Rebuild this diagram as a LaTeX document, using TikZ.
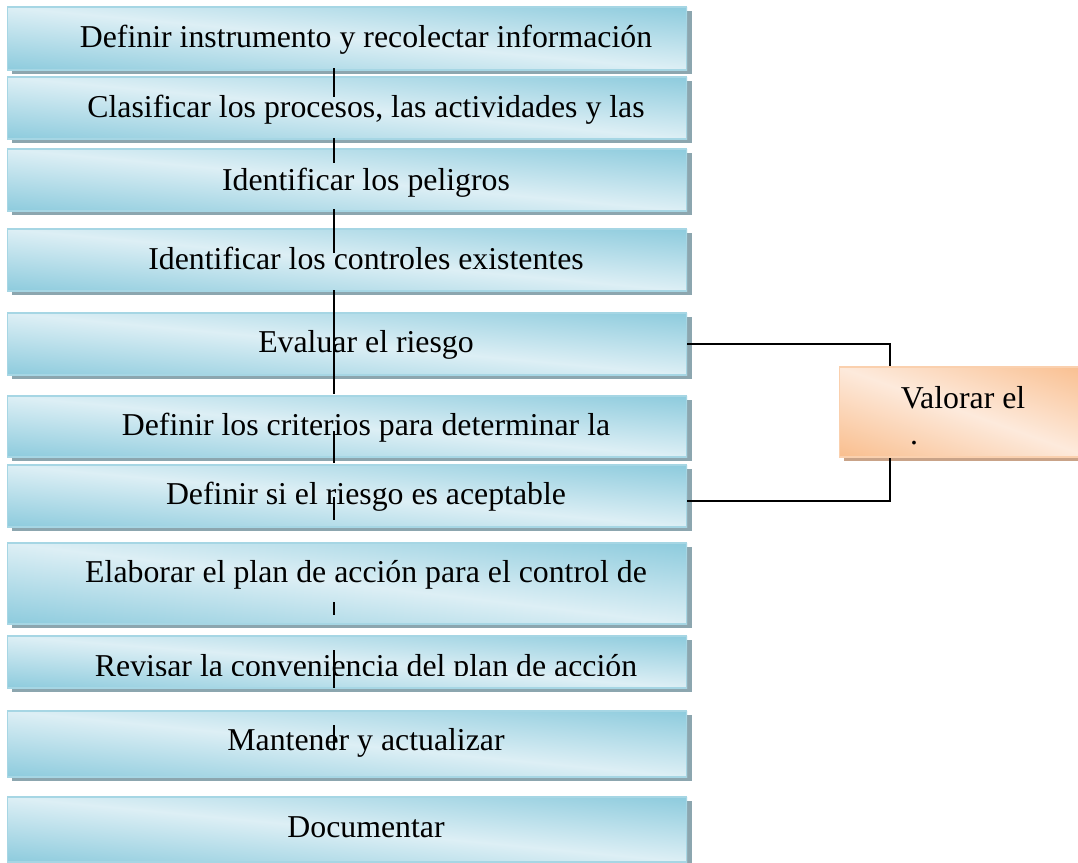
\documentclass[tikz,border=0pt]{standalone}
\usepackage{fontspec}
\setmainfont{Liberation Serif}
\definecolor{bluedark}{HTML}{8DCBDD}
\definecolor{bluelight}{HTML}{DDEFF5}
\definecolor{blueedge}{HTML}{A6D6E4}
\definecolor{blueshade}{HTML}{8CA6AF}
\definecolor{orangedark}{HTML}{F9BE8E}
\definecolor{orangelight}{HTML}{FDEADC}
\definecolor{orangeedge}{HTML}{FAD0AE}
\definecolor{orangeshade}{HTML}{C9A388}
\tikzset{
  stepbox/.style={rectangle, draw=blueedge, line width=0.6pt, inner sep=0pt, minimum width=13.6cm},
  blueramp/.style={top color=bluedark, bottom color=bluedark, middle color=bluelight},
  valbox/.style={rectangle, draw=orangeedge, line width=0.6pt, inner sep=0pt,
    minimum width=5.02cm, minimum height=1.8cm},
  orangeramp/.style={top color=orangedark, bottom color=orangedark, middle color=orangelight},
  steptext/.style={anchor=base, inner sep=0pt, font=\fontsize{18.1}{21}\selectfont},
  spine/.style={line width=0.6pt},
  link/.style={line width=0.8pt}
}
\begin{document}
\begin{tikzpicture}[x=0.02cm, y=-0.02cm]
    \useasboundingbox (0,0) rectangle (1078,862);
    \clip (0,0) rectangle (1078,862);
    \foreach \i/\yt/\yb in {1/7/70, 2/77/139, 3/149/211, 4/229/291, 5/313/375, 6/396/457,
        7/465/527, 8/543/624, 9/636/688, 10/711/777, 11/797/862}
        {
            \pgfmathsetmacro\yc{(\yt+\yb)/2}
            \pgfmathsetmacro\hh{(\yb-\yt)*0.02}
            \pgfmathsetmacro\sl{-(\yb-\yt)/680}
            \fill[blueshade] (12,{\yt+4}) rectangle (692,{\yb+4});
            \begin{scope}
                \clip (7,\yt) rectangle (687,\yb);
                \shade[blueramp, transform canvas={shift={(347,\yc)}, yslant=\sl}]
                    (-6.9cm,-\hh cm) rectangle (6.9cm,\hh cm);
            \end{scope}
            \node[stepbox, minimum height=\hh cm] (b\i) at (347,\yc) {};
        }
    \fill[orangeshade] (844,371) rectangle (1095,461);
    \begin{scope}
        \clip (839,367) rectangle (1090,457);
        \shade[orangeramp, transform canvas={shift={(964.5,412)}, yslant=-0.3586}]
            (-2.6cm,-1.8cm) rectangle (2.6cm,1.8cm);
    \end{scope}
    \node[valbox] (val) at (964.5,412) {};
    \coordinate (knee) at (890,412);
    \draw[link] (b5.east) -| (knee |- val.north);
    \draw[link] ([yshift=-2.8pt]b7.east) -| (knee |- val.south);
    \foreach \ya/\yb in {68/97, 138/163, 209/253, 290/394, 431/463, 497/520, 602/615, 650/688, 725/750}
        {
            \draw[spine] (334,\ya) -- (334,\yb);
        }
    \foreach \i/\base/\cb/\txt in {1/47/862/{Definir instrumento y recolectar información},
        2/117/862/{Clasificar los procesos, las actividades y las},
        3/190/862/{Identificar los peligros},
        4/269/862/{Identificar los controles existentes},
        5/352/862/{Evaluar el riesgo},
        6/435/862/{Definir los criterios para determinar la},
        7/504/862/{Definir si el riesgo es aceptable},
        8/582/862/{Elaborar el plan de acción para el control de},
        9/676/675/{Revisar la conveniencia del plan de acción},
        10/750/862/{Mantener y actualizar},
        11/837/862/{Documentar}}
        {
            \begin{scope}
                \clip (0,0) rectangle (1078,\cb);
                \node[steptext] (t\i) at (366,\base) {\txt};
            \end{scope}
        }
    \node[steptext] (vt) at (963,408) {Valorar el};
    \node[steptext] (vd) at (914,444) {.};
\end{tikzpicture}
\end{document}
